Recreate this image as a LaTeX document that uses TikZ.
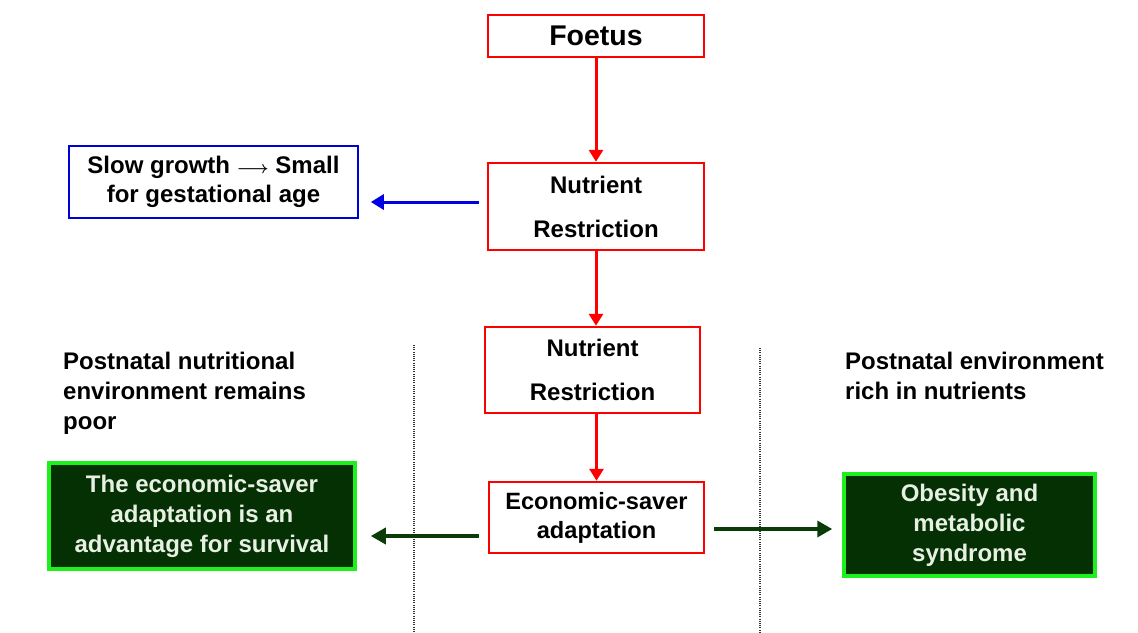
\documentclass[tikz,border=0pt]{standalone}
\usepackage{amsmath}
\usepackage{fontspec}
\setmainfont{Liberation Sans}
\usetikzlibrary{arrows.meta}
\definecolor{dgreen}{RGB}{4,48,4}
\definecolor{lgreen}{RGB}{30,240,30}
\definecolor{arrgreen}{RGB}{10,60,10}
\definecolor{txtw}{RGB}{232,240,228}
\begin{document}
\begin{tikzpicture}[x=1pt,y=-1pt,
  redbox/.style={draw=red, line width=2.5pt, fill=white, inner sep=0pt, align=center,
     font=\fontsize{24}{44}\selectfont\bfseries},
  greenbox/.style={draw=lgreen, line width=3.5pt, fill=dgreen, text=txtw, inner sep=0pt, align=center,
     font=\fontsize{24}{30}\selectfont\bfseries},
  bluebox/.style={draw=blue!85!black, line width=1.6pt, fill=white, inner sep=0pt, align=center,
     font=\fontsize{24}{29}\selectfont\bfseries},
  lbl/.style={anchor=north west, inner sep=0pt, align=left, font=\fontsize{24}{30}\selectfont\bfseries},
  redarr/.style={draw=red, line width=3pt, -{Triangle[length=12pt,width=14pt]}},
  bluearr/.style={draw=blue!90!black, line width=3pt, -{Triangle[length=13pt,width=15pt]}},
  grarr/.style={draw=arrgreen, line width=3.5pt, -{Triangle[length=15pt,width=16pt]}},
  dotline/.style={draw=black!80, line width=1.3pt, dash pattern=on 1pt off 1.2pt},
]
\useasboundingbox (0,0) rectangle (1138,632);

\node[redbox, minimum width=216pt, minimum height=42pt] (foetus) at (596,36) {\fontsize{28.5}{30}\selectfont Foetus};
\node[redbox, minimum width=216pt, minimum height=87pt] (nr1) at (596,206.5) {Nutrient\\Restriction};
\node[redbox, minimum width=215pt, minimum height=86pt] (nr2) at (592.5,370) {Nutrient\\Restriction};
\node[redbox, minimum width=215pt, minimum height=71pt, font=\fontsize{23.6}{29}\selectfont\bfseries] (eco) at (596.5,517.5) {Economic-saver\\adaptation};

\node[bluebox, minimum width=289pt, minimum height=72pt] (sga) at (213.5,182) {Slow growth {\fontsize{17}{17}\selectfont$\boldsymbol{\longrightarrow}$} Small\\for gestational age};

\node[greenbox, minimum width=306pt, minimum height=106pt] (surv) at (202,516) {The economic-saver\\adaptation is an\\advantage for survival};
\node[greenbox, minimum width=251pt, minimum height=102pt] (obes) at (969.5,525) {Obesity and\\metabolic\\syndrome};

\node[lbl] (poor) at (63,352) {Postnatal nutritional\\environment remains\\poor};
\node[lbl] (rich) at (845,352) {Postnatal environment\\rich in nutrients};

\coordinate (d1t) at (414,345);
\coordinate (d1b) at (414,632);
\coordinate (d2t) at (760,348);
\coordinate (d2b) at (760,632);
\draw[dotline] (d1t) -- (d1b);
\draw[dotline] (d2t) -- (d2b);

\draw[redarr] (foetus.south) -- (nr1.north);
\draw[redarr] (nr1.south) -- (nr1.south |- nr2.north);
\draw[redarr] (nr2.south -| eco.north) -- (eco.north);

\draw[bluearr, shorten <=8pt, shorten >=12pt] (nr1.west |- 0,202) -- (sga.east |- 0,202);
\draw[grarr, shorten <=9pt, shorten >=14pt] (eco.west |- 0,536) -- (surv.east |- 0,536);
\draw[grarr, shorten <=9pt, shorten >=10pt] (eco.east |- 0,529) -- (obes.west |- 0,529);
\end{tikzpicture}
\end{document}
